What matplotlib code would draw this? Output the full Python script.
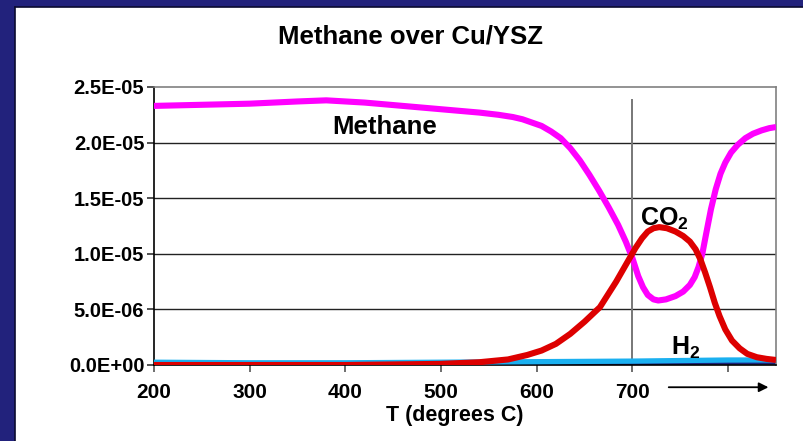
import numpy as np
import matplotlib.pyplot as plt
from matplotlib.patches import Rectangle
from matplotlib.lines import Line2D

plt.rcParams['font.family'] = ['Liberation Sans', 'DejaVu Sans']
plt.rcParams['font.weight'] = 'bold'
plt.rcParams['mathtext.fontset'] = 'custom'
plt.rcParams['mathtext.rm'] = 'Liberation Sans:bold'
plt.rcParams['mathtext.bf'] = 'Liberation Sans:bold'

# =====================================================
# DATA (signal in units of 1E-05)
# =====================================================
methane_T = [200, 250, 300, 350, 380, 420, 460, 500, 540, 560, 575, 585, 595,
             605, 615, 625, 635, 645, 655, 665, 675, 685, 693, 700, 706, 711,
             716, 722, 727, 735, 745, 753, 760, 765, 769, 773, 777, 782, 787,
             792, 797, 803, 810, 818, 826, 835, 843, 850]
methane = [2.33, 2.34, 2.35, 2.37, 2.38, 2.36, 2.33, 2.30, 2.27, 2.25, 2.23,
           2.21, 2.18, 2.15, 2.10, 2.04, 1.95, 1.84, 1.71, 1.57, 1.42, 1.26,
           1.11, 0.96, 0.80, 0.70, 0.63, 0.59, 0.58, 0.59, 0.62, 0.66, 0.72,
           0.79, 0.88, 1.00, 1.18, 1.40, 1.58, 1.72, 1.82, 1.91, 1.98, 2.04,
           2.08, 2.11, 2.13, 2.14]

co2_T = [200, 300, 400, 500, 540, 570, 590, 605, 620, 635, 650, 666, 683, 695,
         703, 710, 716, 722, 728, 736, 745, 753, 760, 766, 771, 776, 781, 786,
         791, 797, 804, 812, 820, 830, 840, 850]
co2 = [0.0, 0.0, 0.0, 0.01, 0.025, 0.05, 0.09, 0.13, 0.19, 0.28, 0.39, 0.52,
       0.75, 0.93, 1.05, 1.14, 1.20, 1.23, 1.24, 1.23, 1.20, 1.16, 1.11, 1.04,
       0.95, 0.83, 0.70, 0.56, 0.44, 0.32, 0.22, 0.15, 0.10, 0.07, 0.055,
       0.045]

h2_T = [200, 300, 400, 500, 600, 700, 800, 850]
h2 = [0.025, 0.02, 0.02, 0.025, 0.03, 0.035, 0.045, 0.045]

base_T = [200, 500, 700, 850]
base = [0.005, 0.008, 0.012, 0.015]

x_ticks = [200, 300, 400, 500, 600, 700, 800]
x_labels = ["200", "300", "400", "500", "600", "700", ""]
y_ticks = [0.0, 0.5, 1.0, 1.5, 2.0, 2.5]
y_labels = ["0.0E+00", "5.0E-06", "1.0E-05", "1.5E-05", "2.0E-05", "2.5E-05"]

# =====================================================
# FIGURE / SLIDE BACKGROUND
# =====================================================
fig = plt.figure(figsize=(8.04, 4.41), dpi=100)
navy = "#22227c"
fig.patch.set_facecolor(navy)
fig.add_artist(Rectangle((15 / 804, 0), 1, 1 - 7 / 441,
                         transform=fig.transFigure, facecolor="white",
                         edgecolor="none", zorder=0))
fig.add_artist(Line2D([15 / 804, 15 / 804], [0, 1 - 7 / 441],
                      transform=fig.transFigure, color="#0a0a30", lw=1.2))
fig.add_artist(Line2D([15 / 804, 1], [1 - 7 / 441, 1 - 7 / 441],
                      transform=fig.transFigure, color="#0a0a30", lw=1.2))

ax = fig.add_axes([154 / 804, 76 / 441, 622 / 804, 278 / 441])
ax.set_facecolor("white")

# gridlines
for yv in y_ticks[1:-1]:
    ax.axhline(yv, color="#222222", lw=1.0, zorder=1)

# vertical marker at 700 C
ax.plot([700, 700], [0, 2.38], color="#777777", lw=1.4, zorder=1)

# series
ax.plot(base_T, base, color="#1a237e", lw=2.0, zorder=2)
ax.plot(h2_T, h2, color="#1ab0f0", lw=3.8, zorder=3)
ax.plot(methane_T, methane, color="#ff00ff", lw=4.4, zorder=4,
        solid_joinstyle="round", solid_capstyle="butt")
ax.plot(co2_T, co2, color="#dd0000", lw=4.4, zorder=5,
        solid_joinstyle="round", solid_capstyle="butt")

ax.set_xlim(200, 850)
ax.set_ylim(0, 2.5)
ax.set_xticks(x_ticks)
ax.set_xticklabels(x_labels, fontsize=15, fontweight="bold")
ax.set_yticks(y_ticks)
ax.set_yticklabels(y_labels, fontsize=14.5, fontweight="bold")
ax.tick_params(axis="x", length=5, width=1.2, color="#555555", pad=8)
ax.tick_params(axis="y", length=5, width=1.2, color="#333333", pad=2)

for s in ["top", "right"]:
    ax.spines[s].set_color("#808080")
    ax.spines[s].set_linewidth(1.2)
for s in ["left", "bottom"]:
    ax.spines[s].set_color("black")
    ax.spines[s].set_linewidth(1.2)

# series labels
ax.text(441, 2.14, "Methane", fontsize=18.5, fontweight="bold",
        ha="center", va="center", zorder=6)
ax.text(733, 1.31, r"$\mathbf{CO_2}$", fontsize=18,
        ha="center", va="center", zorder=6)
ax.text(756, 0.15, r"$\mathbf{H_2}$", fontsize=18,
        ha="center", va="center", zorder=6)

# arrow in place of the 800 label
ax.annotate("", xy=(845, -0.2), xytext=(735, -0.2),
            xycoords=("data", "data"), annotation_clip=False,
            arrowprops=dict(arrowstyle="-|>", color="black", lw=1.3,
                            mutation_scale=14))

fig.text(411 / 804, 1 - 37 / 441, "Methane over Cu/YSZ", fontsize=18.5,
         fontweight="bold", ha="center", va="center")
fig.text(455 / 804, 1 - 416 / 441, "T (degrees C)", fontsize=15.5,
         fontweight="bold", ha="center", va="center")

fig.savefig("out.png", dpi=100, facecolor=fig.get_facecolor())
